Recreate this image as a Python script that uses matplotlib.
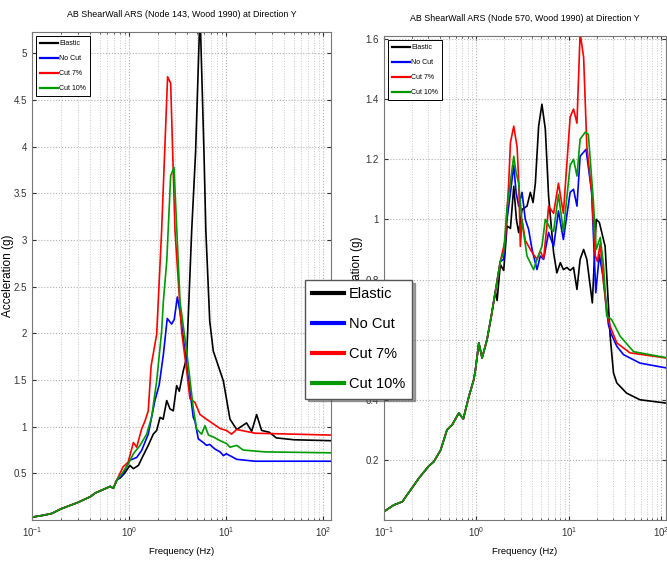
import numpy as np
import matplotlib
matplotlib.use("Agg")
import matplotlib.pyplot as plt
from matplotlib import font_manager
from matplotlib.lines import Line2D
from matplotlib.ticker import FuncFormatter, LogLocator


def pick_font(names):
    """first installed family from names"""
    for name in names:
        try:
            font_manager.findfont(name, fallback_to_default=False)
            return name
        except ValueError:
            pass
    return "DejaVu Sans"


NARROW = pick_font(["Liberation Sans Narrow", "Liberation Sans", "DejaVu Sans"])
WIDE = pick_font(["Liberation Sans", "DejaVu Sans"])

labels = ["Elastic", "No Cut", "Cut 7%", "Cut 10%"]
colors = ["#000000", "#0000ff", "#ff0000", "#009a00"]

# ---- left panel: Node 143 ----
title_left = "AB ShearWall ARS (Node 143, Wood 1990) at Direction Y"
# low frequency part is shared by all four curves
f_left_base = [0.1, 0.13, 0.16, 0.2, 0.3, 0.4, 0.45, 0.5, 0.64, 0.69, 0.75]
a_left_base = [0.03, 0.05, 0.07, 0.12, 0.19, 0.25, 0.29, 0.31, 0.36, 0.34, 0.43]

f_left_elastic = [0.81, 0.9, 1.02, 1.11, 1.25, 1.40, 1.58, 1.78, 1.93, 2.09, 2.25, 2.45,
                  2.65, 2.86, 3.1, 3.3, 3.63, 3.93, 4.43, 4.86, 5.4, 5.93, 6.2, 6.8, 7.4,
                  9.4, 11.0, 12.9, 16.3, 18.4, 20.7, 23.3, 28, 33, 50, 121]
a_left_elastic = [0.45, 0.50, 0.585, 0.55, 0.585, 0.69, 0.80, 0.92, 0.96, 1.10, 1.08, 1.28,
                  1.19, 1.17, 1.44, 1.38, 1.6, 1.74, 3.1, 3.94, 5.45, 3.94, 3.1, 2.13, 1.81,
                  1.49, 1.08, 0.97, 1.04, 0.95, 1.13, 0.96, 0.94, 0.88, 0.86, 0.85]

f_left_nocut = [0.85, 1.02, 1.2, 1.35, 1.58, 1.85, 2.05, 2.26, 2.48, 2.75, 2.93, 3.15, 3.36,
                3.93, 4.6, 4.79, 5.18, 5.84, 6.3, 6.8, 7.7, 8.7, 9.4, 10.1, 12.9, 20, 121]
a_left_nocut = [0.48, 0.64, 0.67, 0.745, 0.92, 1.28, 1.45, 1.77, 2.16, 2.10, 2.15, 2.39, 2.23,
                1.67, 1.10, 1.06, 0.87, 0.83, 0.80, 0.81, 0.76, 0.73, 0.69, 0.71, 0.65, 0.63, 0.63]

f_left_cut7 = [0.87, 0.98, 1.11, 1.2, 1.35, 1.46, 1.58, 1.69, 1.93, 2.17, 2.5, 2.69, 2.98,
               3.49, 3.93, 4.25, 4.79, 5.4, 6.3, 7.4, 8.7, 10.1, 11.4, 12.9, 20, 50, 121]
a_left_cut7 = [0.57, 0.62, 0.83, 0.78, 0.975, 1.06, 1.17, 1.65, 1.99, 3.1, 4.75, 4.68, 3.1,
               2.02, 1.6, 1.30, 1.26, 1.13, 1.08, 1.03, 0.98, 0.96, 0.92, 0.97, 0.93, 0.92, 0.91]

f_left_cut10 = [0.85, 0.98, 1.11, 1.30, 1.52, 1.71, 1.93, 2.17, 2.26, 2.45, 2.69, 2.91, 3.36,
                3.93, 4.6, 4.98, 5.6, 6.07, 6.6, 7.4, 8.7, 10.1, 11.0, 12.9, 15, 25, 121]
a_left_cut10 = [0.50, 0.60, 0.71, 0.80, 0.92, 1.10, 1.49, 2.02, 2.34, 2.77, 3.69, 3.78, 2.34,
                1.81, 1.2, 0.975, 0.92, 1.01, 0.91, 0.89, 0.85, 0.82, 0.78, 0.80, 0.75, 0.73, 0.72]

# ---- right panel: Node 570 ----
title_right = "AB ShearWall ARS (Node 570, Wood 1990) at Direction Y"
f_right_base = [0.1, 0.128, 0.158, 0.238, 0.306, 0.346, 0.41, 0.48, 0.547, 0.645, 0.72,
                0.826, 0.935, 0.975, 1.06, 1.15, 1.30]
a_right_base = [0.028, 0.05, 0.061, 0.139, 0.18, 0.194, 0.233, 0.30, 0.317, 0.356, 0.336,
                0.41, 0.467, 0.50, 0.589, 0.539, 0.60]

f_right_elastic = [1.45, 1.6, 1.67, 1.81, 1.97, 2.14, 2.33, 2.53, 2.7, 2.86, 3.11, 3.52, 3.82,
                   4.09, 4.33, 4.7, 5.1, 5.55, 6.02, 6.82, 7.4, 8.07, 8.7, 9.5, 10.3, 11.2,
                   12.2, 13.2, 14.4, 15.6, 17.9, 19.7, 21.3, 24.6, 27.9, 30.3, 32.9, 42, 58.5, 112]
a_right_elastic = [0.68, 0.76, 0.73, 0.85, 0.83, 0.978, 0.97, 1.11, 1.0, 0.956, 1.033, 1.044,
                   1.09, 1.056, 1.12, 1.31, 1.383, 1.3, 1.078, 0.889, 0.822, 0.856, 0.833, 0.84,
                   0.83, 0.84, 0.767, 0.867, 0.9, 0.867, 0.722, 1.0, 0.99, 0.91, 0.611, 0.489,
                   0.456, 0.422, 0.40, 0.389]

f_right_nocut = [1.45, 1.6, 1.81, 1.97, 2.14, 2.33, 2.53, 2.68, 2.86, 3.11, 3.37, 3.66, 3.99,
                 4.51, 4.9, 5.32, 6.02, 6.82, 7.7, 8.7, 10.3, 11.2, 12.2, 13.2, 15.3, 17.6,
                 19.5, 21.3, 23.6, 26.7, 28.5, 32.9, 38.9, 58.5, 112]
a_right_nocut = [0.68, 0.76, 0.86, 0.867, 1.0, 1.09, 1.18, 1.09, 1.044, 1.09, 1.0, 0.967, 0.9,
                 0.833, 0.878, 0.867, 0.956, 0.91, 1.028, 0.933, 1.09, 1.1, 1.044, 1.21, 1.233,
                 1.09, 0.756, 0.883, 0.80, 0.65, 0.62, 0.578, 0.55, 0.522, 0.506]

f_right_cut7 = [1.45, 1.6, 1.81, 2.05, 2.23, 2.33, 2.53, 2.75, 2.86, 2.98, 3.11, 3.37, 3.99,
                4.51, 4.9, 5.32, 5.78, 6.02, 6.82, 7.7, 8.7, 10.3, 11.2, 12.2, 13.2, 14.4,
                15.6, 17.6, 19.2, 20.3, 21.8, 23.6, 25.6, 27.9, 32.9, 45.7, 112]
a_right_cut7 = [0.68, 0.76, 0.86, 0.933, 1.12, 1.256, 1.31, 1.24, 1.13, 0.91, 1.0, 0.93, 0.89,
                0.867, 0.894, 0.87, 0.98, 1.044, 1.02, 1.12, 1.02, 1.34, 1.367, 1.32, 1.62, 1.54,
                1.244, 1.09, 0.88, 0.86, 0.92, 0.79, 0.69, 0.644, 0.589, 0.556, 0.539]

f_right_cut10 = [1.45, 1.6, 1.81, 1.97, 2.14, 2.53, 2.68, 2.86, 3.11, 3.52, 4.15, 4.51, 5.1,
                 5.55, 6.28, 6.82, 7.7, 8.7, 10.3, 11.2, 12.2, 13.2, 15, 16.2, 18.3, 19.7,
                 21.8, 23.6, 25.6, 28.9, 35.8, 50, 112]
a_right_cut10 = [0.68, 0.76, 0.86, 0.89, 1.04, 1.21, 1.156, 1.12, 0.99, 0.878, 0.833, 0.867,
                 0.91, 1.0, 0.97, 0.96, 1.083, 0.96, 1.18, 1.2, 1.144, 1.267, 1.29, 1.283,
                 1.067, 0.90, 0.94, 0.85, 0.678, 0.667, 0.611, 0.56, 0.54]

left_curves = [(f_left_elastic, a_left_elastic), (f_left_nocut, a_left_nocut),
               (f_left_cut7, a_left_cut7), (f_left_cut10, a_left_cut10)]
right_curves = [(f_right_elastic, a_right_elastic), (f_right_nocut, a_right_nocut),
                (f_right_cut7, a_right_cut7), (f_right_cut10, a_right_cut10)]


def draw_panel(ax, base_f, base_a, curves, title, xmax, ymax, yticks, title_pad):
    for (f, a), c, lab in zip(curves, colors, labels):
        ax.plot(base_f + f, base_a + a, color=c, lw=1.2, label=lab)
    ax.set_xscale("log")
    ax.set_xlim(0.1, xmax)
    ax.set_ylim(0, ymax)
    ax.set_yticks(yticks)
    ax.yaxis.set_major_formatter(FuncFormatter(lambda v, p: "%g" % v))
    ax.xaxis.set_major_locator(LogLocator(base=10, numticks=10))
    ax.xaxis.set_minor_locator(LogLocator(base=10, subs=np.arange(2, 10), numticks=20))
    ax.grid(True, which="major", ls=":", color="#b0b0b0", lw=0.8)
    ax.grid(True, which="minor", axis="x", ls=":", color="#c8c8c8", lw=0.7)
    ax.tick_params(which="both", direction="in", top=True, right=True,
                   labelsize=7, colors="#333333", length=3)
    ax.tick_params(which="minor", length=1.5)
    for lbl in ax.get_xticklabels() + ax.get_yticklabels():
        lbl.set_fontfamily(NARROW)
    for s in ax.spines.values():
        s.set_color("#777777")
        s.set_linewidth(0.8)
    ax.set_title(title, fontsize=6.4, family=NARROW, pad=title_pad)
    ax.set_xlabel("Frequency (Hz)", fontsize=6.8, family=NARROW, labelpad=6)
    ax.set_ylabel("Acceleration (g)", fontsize=8.5, family=WIDE)
    leg = ax.legend(loc="upper left", handlelength=2.5, handletextpad=0.2,
                    labelspacing=1.15, borderpad=0.6, borderaxespad=0.6,
                    fancybox=False, framealpha=1, prop={"family": NARROW, "size": 5})
    leg.get_frame().set_edgecolor("#000000")
    leg.get_frame().set_linewidth(0.7)
    for ln in leg.get_lines():
        ln.set_linewidth(1.6)


fig = plt.figure(figsize=(6.67, 5.63), dpi=100)
ax1 = fig.add_axes([32 / 667, 43 / 563, 299 / 667, 488 / 563])
ax2 = fig.add_axes([384 / 667, 43 / 563, 282 / 667, 484 / 563])

draw_panel(ax1, f_left_base, a_left_base, left_curves, title_left, 121, 5.23,
           np.arange(0.5, 5.01, 0.5), 11)
draw_panel(ax2, f_right_base, a_right_base, right_curves, title_right, 112, 1.61,
           np.arange(0.2, 1.61, 0.2), 11)
ax1.yaxis.set_label_coords(-0.06, 0.5)
ax2.yaxis.set_label_coords(-0.075, 0.5)

# big legend laid over both panels
handles = [Line2D([], [], color=c, lw=3) for c in colors]
big = fig.legend(handles, labels, loc="upper left",
                 bbox_to_anchor=(305 / 667, 1 - 280 / 563), borderaxespad=0,
                 prop={"family": NARROW, "size": 10.5}, handlelength=2.2,
                 handletextpad=0.3, labelspacing=1.1, borderpad=0.5,
                 fancybox=False, shadow=True, framealpha=1)
big.get_frame().set_edgecolor("#555555")
big.get_frame().set_linewidth(1.0)
big.set_zorder(10)

fig.savefig("out.png", dpi=100)
